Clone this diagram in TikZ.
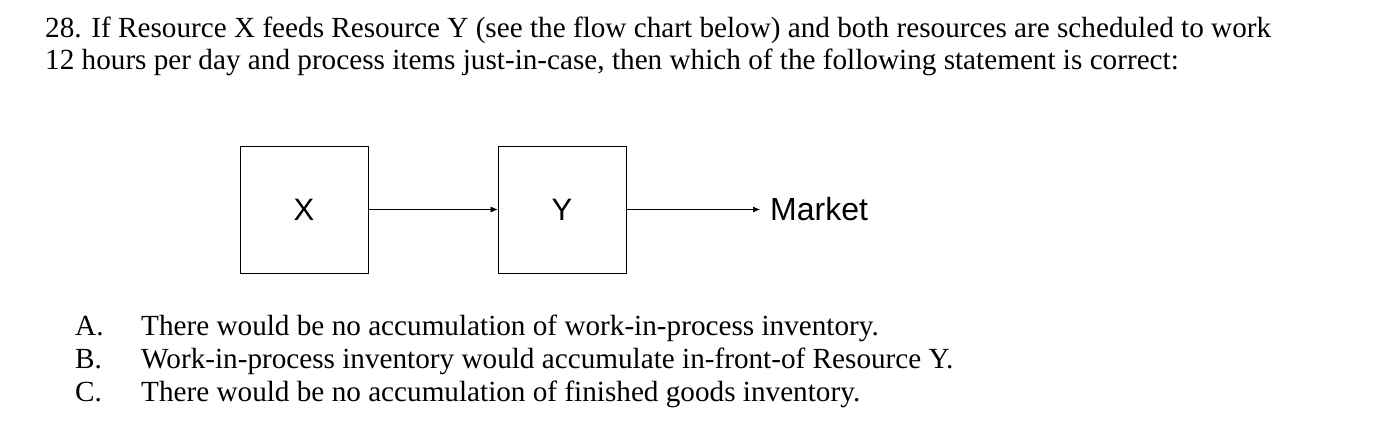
\documentclass[tikz,border=0pt]{standalone}
\usepackage{fontspec}
\usetikzlibrary{arrows.meta}
\setmainfont{Liberation Serif}
\newfontfamily\arial{Liberation Sans}
\begin{document}
\begin{tikzpicture}[x=1pt,y=-1pt,
  txt/.style={anchor=base west,inner sep=0pt,font=\fontsize{29.2}{34}\selectfont},
  res/.style={draw,line width=0.8pt,minimum width=128pt,minimum height=127pt,inner sep=0pt,font=\arial\fontsize{31}{36}\selectfont},
  flow/.style={-{Latex[length=7pt,width=6pt]},line width=0.6pt}]
\useasboundingbox (0,0) rectangle (1384,446);
\node[txt] (l1) at (45,38) {28. If Resource X feeds Resource Y (see the flow chart below) and both resources are scheduled to work};
\node[txt] (l2) at (45,70) {12 hours per day and process items just-in-case, then which of the following statement is correct:};
\node[res] (x) at (304,209.5) {X};
\node[res] (y) at (562,209.5) {Y};
\node[anchor=west,inner sep=0pt,font=\arial\fontsize{32}{36}\selectfont] (m) at (770,209.5) {Market};
\coordinate (me) at (760,209.5);
\draw[flow] (x.east) -- (y.west);
\draw[flow] (y.east) -- (me);
\node[txt] (a1) at (75,335) {A.};
\node[txt] (a2) at (141,335) {There would be no accumulation of work-in-process inventory.};
\node[txt] (b1) at (75,368) {B.};
\node[txt] (b2) at (141,368) {Work-in-process inventory would accumulate in-front-of Resource Y.};
\node[txt] (c1) at (75,401) {C.};
\node[txt] (c2) at (141,401) {There would be no accumulation of finished goods inventory.};
\end{tikzpicture}
\end{document}
